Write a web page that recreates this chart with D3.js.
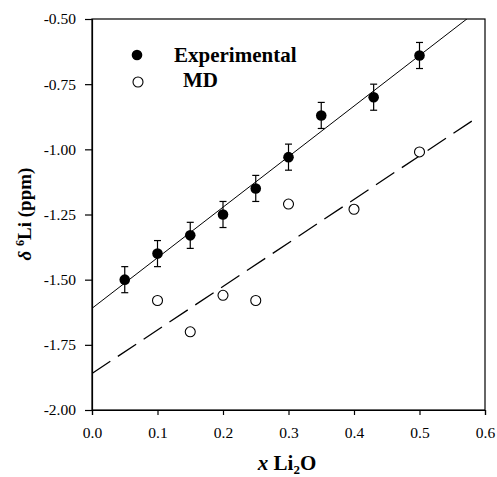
<!DOCTYPE html>
<html>
<head>
<meta charset="utf-8">
<script src="https://cdn.jsdelivr.net/npm/d3@7"></script>
<style>
  body { margin: 0; background: #fff; }
</style>
</head>
<body>
<svg id="chart" width="497" height="477"></svg>
<script>
// data
const expX = [0.05, 0.10, 0.15, 0.20, 0.25, 0.30, 0.35, 0.43, 0.50];
const expY = [-1.50, -1.40, -1.33, -1.25, -1.15, -1.03, -0.87, -0.80, -0.64];
const expErr = [0.05, 0.05, 0.05, 0.05, 0.05, 0.05, 0.05, 0.05, 0.05];
const mdX = [0.10, 0.15, 0.20, 0.25, 0.30, 0.40, 0.50];
const mdY = [-1.58, -1.70, -1.56, -1.58, -1.21, -1.23, -1.01];
// linear fits: [intercept, slope]
const expFit = [-1.61, 1.94];
const mdFit = [-1.86, 1.67];
const xTicks = [0.0, 0.1, 0.2, 0.3, 0.4, 0.5, 0.6];
const yTicks = [-0.50, -0.75, -1.00, -1.25, -1.50, -1.75, -2.00];

const FONT = "Liberation Serif";

const svg = d3.select("#chart");
const margin = { top: 19, right: 12, bottom: 67, left: 92 };
const width = +svg.attr("width") - margin.left - margin.right;
const height = +svg.attr("height") - margin.top - margin.bottom;
const g = svg.append("g").attr("transform", "translate(" + margin.left + "," + margin.top + ")");

const x = d3.scaleLinear().domain([0, 0.6]).range([0, width]);
const y = d3.scaleLinear().domain([-2.0, -0.5]).range([height, 0]);

// frame
g.append("rect").attr("width", width).attr("height", height)
  .attr("fill", "none").attr("stroke", "#000").attr("stroke-width", 1.2);

// axes
const xAxis = g.append("g").attr("transform", "translate(0," + height + ")")
  .call(d3.axisBottom(x).tickValues(xTicks).tickFormat(d3.format(".1f")).tickSize(5).tickPadding(12));
const yAxis = g.append("g")
  .call(d3.axisLeft(y).tickValues(yTicks).tickFormat(d => d3.format(".2f")(d).replace("−", "-")).tickSize(7).tickPadding(9));
[xAxis, yAxis].forEach(a => {
  a.attr("font-family", FONT).attr("font-size", 15);
  a.select(".domain").attr("stroke", "#000").attr("stroke-width", 1.2);
  a.selectAll(".tick line").attr("stroke", "#000").attr("stroke-width", 1.2);
  a.selectAll(".tick text").attr("font-family", FONT).attr("font-size", 15.5).attr("fill", "#000");
});

// clip for fit lines
g.append("clipPath").attr("id", "clip").append("rect").attr("width", width).attr("height", height);

const fitLine = d3.line().x(d => x(d[0])).y(d => y(d[1]));
g.append("path").attr("clip-path", "url(#clip)")
  .datum([[0, expFit[0]], [0.6, expFit[0] + expFit[1] * 0.6]])
  .attr("d", fitLine).attr("fill", "none").attr("stroke", "#000").attr("stroke-width", 1);
g.append("path").attr("clip-path", "url(#clip)")
  .datum([[0, mdFit[0]], [0.59, mdFit[0] + mdFit[1] * 0.59]])
  .attr("d", fitLine).attr("fill", "none").attr("stroke", "#000").attr("stroke-width", 1.3)
  .attr("stroke-dasharray", "22,9");

// error bars
const expData = expX.map((d, i) => ({ x: d, y: expY[i], e: expErr[i] }));
const eb = g.selectAll(".err").data(expData).enter().append("g").attr("class", "err")
  .attr("stroke", "#000").attr("stroke-width", 1.2);
eb.append("line").attr("x1", d => x(d.x)).attr("x2", d => x(d.x))
  .attr("y1", d => y(d.y - d.e)).attr("y2", d => y(d.y + d.e));
eb.append("line").attr("x1", d => x(d.x) - 3.5).attr("x2", d => x(d.x) + 3.5)
  .attr("y1", d => y(d.y + d.e)).attr("y2", d => y(d.y + d.e));
eb.append("line").attr("x1", d => x(d.x) - 3.5).attr("x2", d => x(d.x) + 3.5)
  .attr("y1", d => y(d.y - d.e)).attr("y2", d => y(d.y - d.e));

g.selectAll(".exp").data(expData).enter().append("circle").attr("class", "exp")
  .attr("cx", d => x(d.x)).attr("cy", d => y(d.y)).attr("r", 5.3).attr("fill", "#000");

g.selectAll(".md").data(mdX.map((d, i) => ({ x: d, y: mdY[i] }))).enter().append("circle").attr("class", "md")
  .attr("cx", d => x(d.x)).attr("cy", d => y(d.y)).attr("r", 5)
  .attr("fill", "#fff").attr("stroke", "#000").attr("stroke-width", 1.1);

// legend
const leg = svg.append("g");
leg.append("circle").attr("cx", 137).attr("cy", 55).attr("r", 5.3).attr("fill", "#000");
leg.append("circle").attr("cx", 138).attr("cy", 82).attr("r", 5).attr("fill", "#fff").attr("stroke", "#000").attr("stroke-width", 1.1);
leg.append("text").attr("x", 174).attr("y", 62).attr("font-family", FONT).attr("font-size", 21).attr("font-weight", "bold").text("Experimental");
leg.append("text").attr("x", 183).attr("y", 87).attr("font-family", FONT).attr("font-size", 21).attr("font-weight", "bold").text("MD");

// axis titles
const xt = svg.append("text").attr("x", 287).attr("y", 470).attr("text-anchor", "middle")
  .attr("font-family", FONT).attr("font-size", 21).attr("font-weight", "bold");
xt.append("tspan").attr("font-style", "italic").text("x");
xt.append("tspan").text(" Li");
xt.append("tspan").attr("font-size", 13).attr("dy", 4).text("2");
xt.append("tspan").attr("dy", -4).text("O");

const yt = svg.append("text").attr("transform", "translate(31,214) rotate(-90)").attr("text-anchor", "middle")
  .attr("font-family", FONT).attr("font-size", 19).attr("font-weight", "bold");
yt.append("tspan").attr("font-style", "italic").text("δ ");
yt.append("tspan").attr("font-size", 12).attr("dy", -7).text("6");
yt.append("tspan").attr("dy", 7).text("Li (ppm)");
</script>
</body>
</html>
